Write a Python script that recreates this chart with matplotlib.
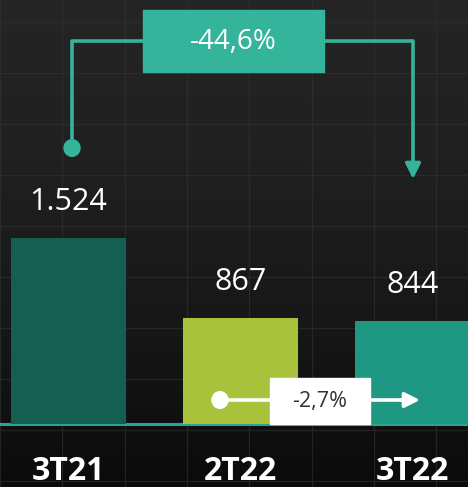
import numpy as np
import matplotlib
matplotlib.use("Agg")
import matplotlib.pyplot as plt
from matplotlib.patches import Rectangle, Circle
from matplotlib.colors import LinearSegmentedColormap

categories = ["3T21", "2T22", "3T22"]
values = [1524, 867, 844]
value_labels = ["1.524", "867", "844"]
bar_colors = ["#145f52", "#a8c23b", "#1f9883"]
change_total = "-44,6%"
change_quarter = "-2,7%"

W, H = 468, 487
fig = plt.figure(figsize=(W / 100, H / 100), dpi=100)

# background
bg = fig.add_axes([0, 0, 1, 1])
bg.set_axis_off()
cmap = LinearSegmentedColormap.from_list("bg", ["#252525", "#202020", "#171717", "#0b0b0b"])
grad = np.linspace(0, 1, 256).reshape(-1, 1)
bg.imshow(grad, aspect="auto", cmap=cmap, extent=[0, W, H, 0])
bg.set_xlim(0, W)
bg.set_ylim(H, 0)
for gx in np.arange(0, W, 62.3):
    bg.axvline(gx, color="#333333", lw=0.9, alpha=0.6)
for gy in np.arange(22, H, 51):
    bg.axhline(gy, color="#333333", lw=0.9, alpha=0.6)

# main axes
ax = fig.add_axes([0, 0, 1, 1])
ax.patch.set_alpha(0)
ax.set_axis_off()
px_per_unit_y = 186 / 1524
base_px = 63
ax.set_ylim(-base_px / px_per_unit_y, (H - base_px) / px_per_unit_y)
sx = 172
ax.set_xlim(-68.5 / sx, (W - 68.5) / sx)

x = np.arange(len(categories))
ax.bar(x, values, width=115 / sx, color=bar_colors, zorder=3)
ax.axhline(0, color="#2aa58d", lw=2.2, zorder=2)

for xi, v, lab in zip(x, values, value_labels):
    ax.text(xi, v + 36 / px_per_unit_y, lab, ha="center", va="center",
            color="white", fontsize=22, family="Open Sans", fontweight="normal", zorder=5)
for xi, c in zip(x, categories):
    ax.text(xi, -47 / px_per_unit_y, c, ha="center", va="center",
            color="white", fontsize=23, family="Open Sans", fontweight="bold", zorder=5)

def P(xp, yp):
    return xp / W, 1 - yp / H

tf = fig.transFigure
teal = "#35b49c"
xs = [72, 72, 413, 413]
ys = [148, 41, 41, 168]
ax.plot([P(a, b)[0] for a, b in zip(xs, ys)], [P(a, b)[1] for a, b in zip(xs, ys)],
        transform=tf, color=teal, lw=2.6, zorder=4, solid_capstyle="butt")
ax.add_patch(Circle(P(72, 148), 8 / W, transform=tf, color=teal, zorder=4))
ax.annotate("", xy=P(413, 179), xytext=P(413, 160), xycoords=tf, textcoords=tf,
            arrowprops=dict(arrowstyle="-|>,head_width=0.45,head_length=0.9",
                            color=teal, lw=2.6, shrinkA=0, shrinkB=0), zorder=4)
x0, y0 = P(143, 72)
ax.add_patch(Rectangle((x0, y0), 181 / W, 62 / H, transform=tf, color=teal, zorder=5))
ax.text(*P(233.5, 42), change_total, transform=tf, ha="center", va="center",
        color="white", fontsize=20, family="Open Sans", zorder=6)

ax.plot([P(220, 400)[0], P(405, 400)[0]], [P(220, 400)[1]] * 2, transform=tf,
        color="white", lw=2.6, zorder=6)
ax.add_patch(Circle(P(220, 400), 8 / W, transform=tf, color="white", zorder=6))
ax.annotate("", xy=P(420, 400), xytext=P(400, 400), xycoords=tf, textcoords=tf,
            arrowprops=dict(arrowstyle="-|>,head_width=0.45,head_length=0.9",
                            color="white", lw=2.6, shrinkA=0, shrinkB=0), zorder=6)
x0, y0 = P(270, 424)
ax.add_patch(Rectangle((x0, y0), 100 / W, 46 / H, transform=tf, color="white", zorder=7))
ax.text(*P(320, 401), change_quarter, transform=tf, ha="center", va="center",
        color="#333333", fontsize=15.5, family="Open Sans", zorder=8)

fig.savefig("out.png", dpi=100)
